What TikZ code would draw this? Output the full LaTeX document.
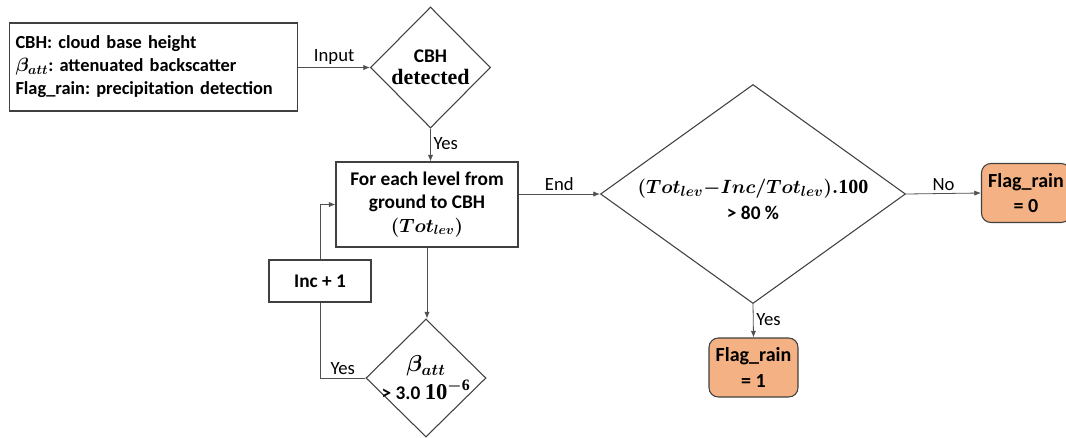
\documentclass[tikz,border=0pt]{standalone}
\usepackage{amsmath,bm}
\usepackage[no-math]{fontspec}
\setmainfont{Carlito}
\newfontfamily\serifbf{Liberation Serif}
\usetikzlibrary{shapes.geometric,arrows.meta}
\definecolor{lineg}{HTML}{505050}
\definecolor{boxg}{HTML}{404040}
\definecolor{flagfill}{HTML}{F4B183}
\newcommand{\sbf}[1]{\text{\serifbf\bfseries #1}}
\tikzset{
  every node/.style={font=\fontsize{14.5}{17.4}\selectfont},
  box/.style={draw=boxg, line width=0.8pt, rectangle, inner sep=0pt, align=center, font=\fontsize{14.5}{17.4}\selectfont\bfseries\boldmath\frenchspacing},
  dec/.style={draw=boxg, line width=0.8pt, diamond, inner sep=0pt},
  dtext/.style={align=center, inner sep=0pt, font=\fontsize{14.5}{17.4}\selectfont\bfseries\boldmath},
  flag/.style={draw=boxg, line width=0.8pt, rectangle, rounded corners=7pt, fill=flagfill, inner sep=0pt, align=center, minimum width=66.75pt, minimum height=44.25pt, font=\fontsize{15}{19}\selectfont\bfseries},
  conn/.style={draw=lineg, line width=0.6pt, -{Latex[length=5pt,width=4pt]}},
  lbl/.style={font=\fontsize{14}{16}\selectfont, inner sep=2pt},
}
\begin{document}
\begin{tikzpicture}[x=0.75pt,y=-0.75pt]
\useasboundingbox (0,0) rectangle (1066,437);
% input box
\node[box, align=left, text width=207pt, minimum height=66pt, inner xsep=4.75pt, font=\fontsize{13.8}{17.2}\selectfont\bfseries\boldmath\frenchspacing] (inp) at (153.5,67)
  {CBH: cloud base height\\ $\bm{\beta_{att}}$: attenuated backscatter\\ Flag\_rain: precipitation detection};
% CBH detected
\node[dec, minimum width=90pt, minimum height=90.75pt] (cbh) at (430.5,67.5) {};
\node[dtext] (cbht) at (cbh.center) {CBH\\[-1pt] {\fontsize{16.5}{18}\selectfont\serifbf\bfseries detected}};
% loop box
\node[box, minimum width=136.5pt, minimum height=63.75pt] (loop) at (427,204.5)
  {For each level from\\ ground to CBH\\ $\bm{(Tot_{lev})}$};
% Inc + 1
\node[box, minimum width=76.5pt, minimum height=31.5pt] (inc) at (320,281) {Inc + 1};
% beta diamond
\node[dec, minimum width=90pt, minimum height=88.5pt] (beta) at (426,378) {};
\node[dtext] (betat) at (beta.center)
  {{\fontsize{17}{18}\selectfont$\bm{\beta_{att}}$}\\[2pt] > 3.0 {\fontsize{17}{18}\selectfont$\sbf{10}^{\bm{-}\sbf{6}}$}};
% big diamond
\node[dec, minimum width=228.75pt, minimum height=164.25pt] (big) at (753,194) {};
\node[dtext] (bigt) at ([yshift=-4pt]big.center)
  {{\fontsize{15}{18}\selectfont$\bm{(Tot_{lev}{-}Inc/Tot_{lev}).}\sbf{100}$}\\[2pt] > 80 \%};
% flags
\node[flag] (f1) at (753.5,367.5) {Flag\_rain\\ = 1};
\node[flag] (f0) at (1026,193) {Flag\_rain\\ = 0};
% connectors
\draw[conn] (inp.east |- cbh.west) -- node[lbl, above] {Input} (cbh.west);
\draw[conn] (cbh.south) -- node[lbl, right, pos=0.45] {Yes} (cbh.south |- loop.north);
\coordinate (endstart) at (loop.east |- big.west);
\draw[conn] (endstart) -- node[lbl, above] {End} (big.west);
\draw[conn] (loop.south) -- (loop.south |- beta.north);
\draw[draw=lineg, line width=0.6pt] (beta.west) -| node[lbl, above, pos=0.25] {Yes} (inc.south);
\draw[conn] (inc.north) |- (loop.west);
\draw[conn] (big.east) -- node[lbl, above] {No} (f0.west);
\draw[conn] (big.south) -- node[lbl, right, pos=0.45] {Yes} (f1.north);
\end{tikzpicture}
\end{document}
